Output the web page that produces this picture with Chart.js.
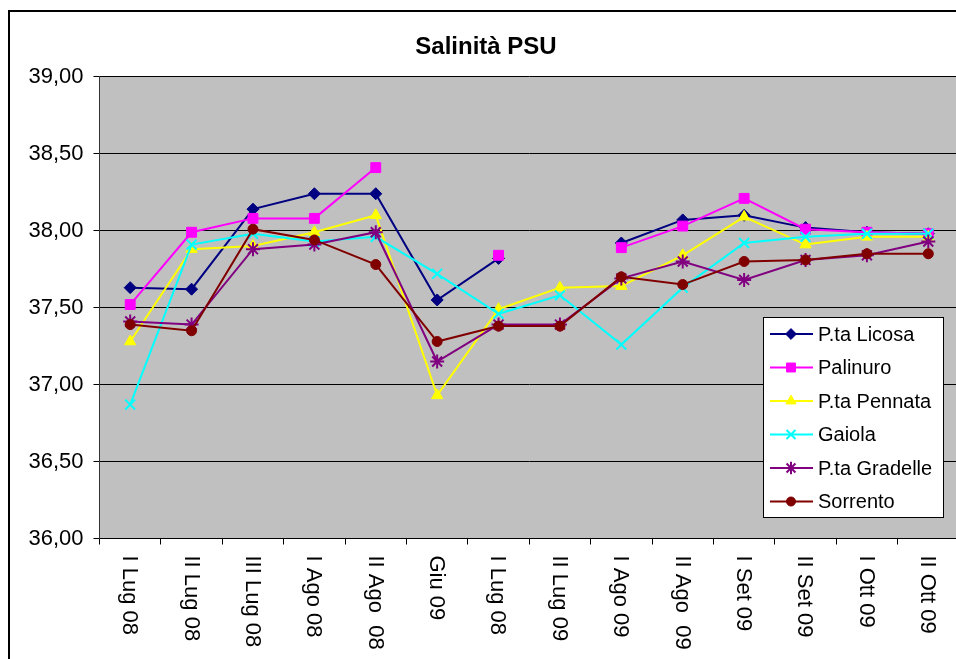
<!DOCTYPE html>
<html>
<head>
<meta charset="utf-8">
<script src="https://cdn.jsdelivr.net/npm/chart.js@4/dist/chart.umd.min.js"></script>
<style>
  html, body { margin: 0; padding: 0; background: #fff; overflow: hidden; }
  #wrap { width: 956px; height: 659px; overflow: hidden; }
  #chart { display: block; }
</style>
</head>
<body>
<div id="wrap"><canvas id="chart" width="968" height="659"></canvas></div>
<script>
// categories (as written on the original chart)
const labels = ["I Lug 08", "II Lug 08", "III Lug 08", "I Ago 08", "II Ago  08", "Giu 09", "I Lug 08",
  "II Lug 09", "I Ago 09", "II Ago  09", "I Set 09", "II Set 09", "I Ott 09", "II Ott 09"];

// salinity per station
const licosa   = [37.63, 37.62, 38.14, 38.24, 38.24, 37.55, 37.82, null, 37.92, 38.07, 38.10, 38.02, 37.99, 37.98];
const palinuro = [37.52, 37.99, 38.08, 38.08, 38.41, null, 37.84, null, 37.89, 38.03, 38.21, 38.01, 37.99, 37.98];
const pennata  = [37.28, 37.88, 37.90, 37.99, 38.10, 36.93, 37.49, 37.63, 37.64, 37.84, 38.09, 37.91, 37.96, 37.96];
const gaiola   = [36.87, 37.91, 37.98, 37.93, 37.96, 37.72, 37.46, 37.58, 37.26, 37.63, 37.92, 37.96, 37.98, 37.98];
const gradelle = [37.41, 37.39, 37.88, 37.91, 37.99, 37.15, 37.39, 37.39, 37.69, 37.80, 37.68, 37.81, 37.84, 37.93];
const sorrento = [37.39, 37.35, 38.01, 37.94, 37.78, 37.28, 37.38, 37.38, 37.70, 37.65, 37.80, 37.81, 37.85, 37.85];

const FONT = "'Liberation Sans', Arial, sans-serif";

function series(label, data, color, style, radius, idx) {
  return {
    label: label, data: data,
    borderColor: color, backgroundColor: color,
    pointBackgroundColor: color, pointBorderColor: color,
    pointStyle: style, pointRadius: radius, pointHoverRadius: radius,
    pointBorderWidth: (style === "crossRot" || style === "star") ? 2 : 1,
    borderWidth: 2, tension: 0, spanGaps: false,
    order: 10 - idx   // later series on top, as in the original
  };
}

const datasets = [
  series("P.ta Licosa",   licosa,   "#000080", "rectRot",  6,   0),
  series("Palinuro",      palinuro, "#FF00FF", "rect",     7,   1),
  series("P.ta Pennata",  pennata,  "#FFFF00", "triangle", 6.5, 2),
  series("Gaiola",        gaiola,   "#00FFFF", "crossRot", 7,   3),
  series("P.ta Gradelle", gradelle, "#800080", "star",     7,   4),
  series("Sorrento",      sorrento, "#800000", "circle",   5,   5)
];

const framePlugin = {
  id: "frame",
  beforeDraw(chart) {
    const ctx = chart.ctx, a = chart.chartArea;
    ctx.save();
    ctx.fillStyle = "#fff";
    ctx.fillRect(0, 0, chart.width, chart.height);
    ctx.strokeStyle = "#000";
    ctx.lineWidth = 2;
    ctx.strokeRect(9, 11, 1200, 1200);
    ctx.fillStyle = "#C0C0C0";
    ctx.fillRect(a.left, a.top, a.right - a.left, a.bottom - a.top);
    ctx.restore();
  },
  afterDraw(chart) {
    const ctx = chart.ctx, xs = chart.scales.x;
    ctx.save();
    // x labels, rotated clockwise
    ctx.fillStyle = "#000";
    ctx.font = "22px " + FONT;
    ctx.textAlign = "left";
    ctx.textBaseline = "middle";
    labels.forEach((lab, i) => {
      ctx.save();
      ctx.translate(xs.getPixelForValue(i) - 1, chart.chartArea.bottom + 17);
      ctx.rotate(Math.PI / 2);
      ctx.fillText(lab, 0, 0);
      ctx.restore();
    });

    // legend box
    const bx = 763, by = 317, bw = 180, bh = 200;
    ctx.fillStyle = "#fff";
    ctx.fillRect(bx, by, bw, bh);
    ctx.strokeStyle = "#000";
    ctx.lineWidth = 1;
    ctx.strokeRect(bx + 0.5, by + 0.5, bw, bh);
    ctx.font = "20px " + FONT;
    ctx.textBaseline = "middle";
    chart.data.datasets.forEach((ds, i) => {
      const y = 334 + i * 33.5;
      ctx.strokeStyle = ds.borderColor;
      ctx.lineWidth = 2;
      ctx.beginPath();
      ctx.moveTo(770, y);
      ctx.lineTo(813, y);
      ctx.stroke();
      ctx.fillStyle = ds.pointBackgroundColor;
      ctx.lineWidth = ds.pointBorderWidth;
      if (Chart.helpers && Chart.helpers.drawPoint) {
        Chart.helpers.drawPoint(ctx, { pointStyle: ds.pointStyle, radius: ds.pointRadius * 0.9, rotation: 0, borderWidth: ds.pointBorderWidth }, 791, y);
      } else {
        ctx.beginPath(); ctx.arc(791, y, 5, 0, Math.PI * 2); ctx.fill();
      }
      ctx.fillStyle = "#000";
      ctx.fillText(ds.label, 818, y + 1);
    });
    ctx.restore();
  }
};

new Chart(document.getElementById("chart"), {
  type: "line",
  data: { labels: labels, datasets: datasets },
  options: {
    responsive: false,
    animation: false,
    events: [],
    layout: { padding: { left: 4, right: 0, top: 0, bottom: 0 } },
    plugins: {
      legend: { display: false },
      tooltip: { enabled: false },
      title: {
        display: true,
        text: "Salinità PSU",
        color: "#000",
        font: { family: FONT, size: 24, weight: "bold" },
        padding: { top: 33, bottom: 15 }
      }
    },
    scales: {
      x: {
        offset: true,
        grid: { display: true, drawOnChartArea: false, drawTicks: true, tickLength: 6, color: "#000", offset: true },
        border: { color: "#000", width: 1 },
        ticks: { display: false },
        afterFit(s) { s.height = 120.5; }
      },
      y: {
        min: 36, max: 39,
        grid: { color: "#000", tickLength: 6, lineWidth: 1 },
        border: { color: "#333", width: 1 },
        ticks: {
          stepSize: 0.5,
          padding: 10,
          color: "#000",
          font: { family: FONT, size: 22 },
          callback: v => v.toFixed(2).replace(".", ",")
        },
        afterFit(s) { s.width = 95.5; }
      }
    }
  },
  plugins: [framePlugin]
});
</script>
</body>
</html>
